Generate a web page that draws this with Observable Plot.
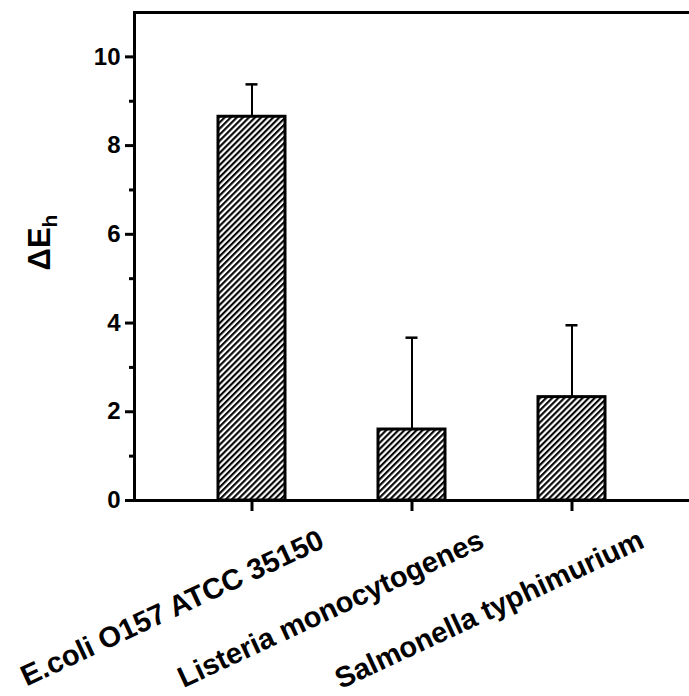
<!DOCTYPE html>
<html><head><meta charset="utf-8">
<script src="https://cdn.jsdelivr.net/npm/d3@7"></script>
<script src="https://cdn.jsdelivr.net/npm/@observablehq/plot@0.6"></script>
<style>body{margin:0;background:#fff}</style>
</head><body><div id="chart"></div>
<script>
const categories = ["E.coli O157 ATCC 35150", "Listeria monocytogenes", "Salmonella typhimurium"];
const values = [8.65, 1.6, 2.33];
const errors = [0.73, 2.07, 1.62];
const yTicks = [0, 2, 4, 6, 8, 10];
const yMinorTicks = [1, 3, 5, 7, 9];
const yLabel = "ΔE";
const yLabelSub = "h";

const data = categories.map((c, i) => ({cat: c, value: values[i], top: values[i] + errors[i]}));

const chart = Plot.plot({
  width: 689, height: 696,
  marginTop: 12, marginLeft: 134, marginRight: 0, marginBottom: 196,
  style: {fontFamily: "'Liberation Sans', Arial, sans-serif", fontWeight: "bold", color: "#000", background: "#fff", overflow: "visible"},
  x: {domain: categories, paddingInner: 0.58, paddingOuter: 0.52, label: null, axis: null},
  y: {domain: [0, 11], label: null, axis: null},
  marks: [
    Plot.ruleX(data, {x: "cat", y1: "value", y2: "top", stroke: "#000", strokeWidth: 2}),
    Plot.tickY(data, {x: "cat", y: "top", stroke: "#000", strokeWidth: 2.5, insetLeft: 27.5, insetRight: 27.5}),
    Plot.barY(data, {x: "cat", y: "value", fill: "url(#hatch)", stroke: "#000", strokeWidth: 3}),
    Plot.axisY({ticks: yTicks, tickSize: 9, tickPadding: 5, fontSize: 24, strokeWidth: 3, fontWeight: "bold"}),
    Plot.axisY({ticks: yMinorTicks, tickSize: 5, text: null, strokeWidth: 3}),
    Plot.axisX({tickSize: 11, text: null, strokeWidth: 3}),
    Plot.text(categories, {x: d => d, frameAnchor: "bottom", rotate: -25, textAnchor: "end", lineAnchor: "middle", dx: 70, dy: 38, fontSize: 29, fontWeight: "bold", fill: "#000"}),
    Plot.frame({anchor: "left", stroke: "#000", strokeWidth: 3}),
    Plot.frame({anchor: "top", stroke: "#000", strokeWidth: 3, strokeLinecap: "square"}),
    Plot.frame({anchor: "bottom", stroke: "#000", strokeWidth: 3}),
    Plot.text([yLabel], {frameAnchor: "left", rotate: -90, textAnchor: "middle", lineAnchor: "middle", dx: -94, dy: -14, fontSize: 31, fontWeight: "bold", fill: "#000"})
  ]
});

d3.select(chart).insert("defs", ":first-child").html(
  '<pattern id="hatch" patternUnits="userSpaceOnUse" width="4.3" height="4.3" patternTransform="rotate(45)">' +
  '<rect width="4.3" height="4.3" fill="#fff"/>' +
  '<line x1="1.1" y1="-1" x2="1.1" y2="5.3" stroke="#000" stroke-width="2.1"/>' +
  '</pattern>'
);
d3.select(chart).selectAll("text").filter(function() { return this.textContent === yLabel; })
  .append("tspan").attr("dy", "0.3em").attr("font-size", 21).text(yLabelSub);

document.getElementById("chart").appendChild(chart);
</script>
</body></html>
